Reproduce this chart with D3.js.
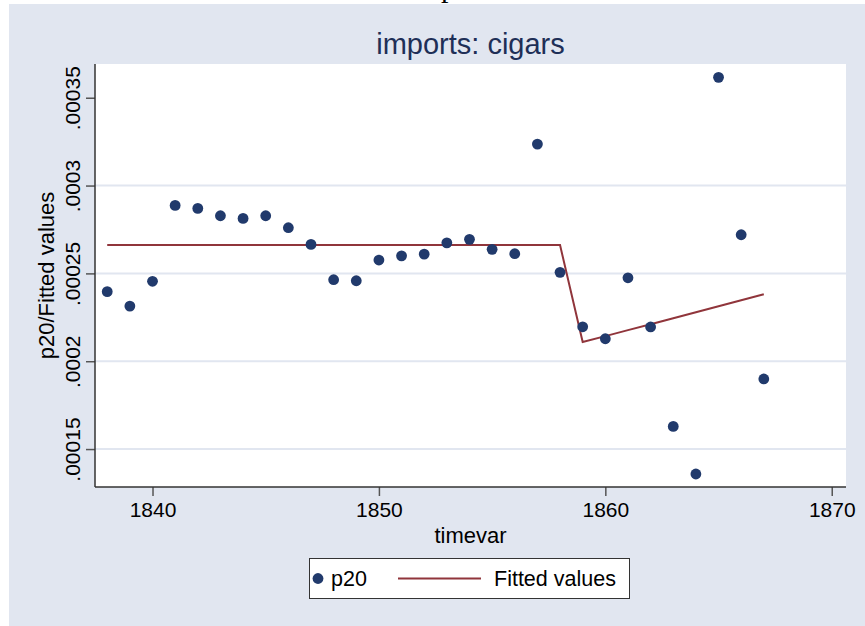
<!DOCTYPE html>
<html>
<head>
<meta charset="utf-8">
<script src="https://d3js.org/d3.v7.min.js"></script>
<style>
  body { margin: 0; background: #fff; }
  svg { display: block; }
</style>
</head>
<body>
<div class="canvas"></div>
<script>
// year of each observation
var years = [1838, 1839, 1840, 1841, 1842, 1843, 1844, 1845, 1846, 1847,
             1848, 1849, 1850, 1851, 1852, 1853, 1854, 1855, 1856, 1857,
             1858, 1859, 1860, 1861, 1862, 1863, 1864, 1865, 1866, 1867];

// p20 (scatter)
var p20 = [0.0002396, 0.0002314, 0.0002455, 0.0002887, 0.000287, 0.0002828, 0.0002813, 0.0002828, 0.000276, 0.0002665,
           0.0002464, 0.0002458, 0.0002576, 0.00026, 0.000261, 0.0002674, 0.0002694, 0.0002637, 0.0002612, 0.0003236,
           0.0002506, 0.0002196, 0.0002128, 0.0002475, 0.0002195, 0.0001629, 0.0001358, 0.0003616, 0.000272, 0.0001899];

// fitted values (line)
var fitted = [0.0002661, 0.0002661, 0.0002661, 0.0002661, 0.0002661, 0.0002661, 0.0002661, 0.0002661, 0.0002661, 0.0002661,
              0.0002661, 0.0002661, 0.0002661, 0.0002661, 0.0002661, 0.0002661, 0.0002661, 0.0002661, 0.0002661, 0.0002661,
              0.0002661, 0.0002109, 0.0002143, 0.0002177, 0.0002211, 0.0002245, 0.0002279, 0.0002313, 0.0002347, 0.0002381];

var xTicks = [1840, 1850, 1860, 1870];
var yTicks = [0.00015, 0.0002, 0.00025, 0.0003, 0.00035];
var yTickLabels = ['.00015', '.0002', '.00025', '.0003', '.00035'];
var yGrid = [0.00015, 0.0002, 0.00025, 0.0003];

var width = 865, height = 626;
var font = "'Liberation Sans', Arial, Helvetica, sans-serif";
var navy = '#213a6c', maroon = '#90353b', bg = '#e1e6f0';

var plotLeft = 95, plotRight = 846, plotTop = 64, plotBottom = 487;

var svg = d3.select('.canvas')
            .append('svg')
              .attr('width', width)
                .attr('height', height);

// bit of the page caption peeking in above the graph
svg.append('text')
    .attr('x', 441)
    .attr('y', -3)
    .attr('font-family', "'Liberation Serif', 'Times New Roman', serif")
    .attr('font-size', 30)
    .attr('fill', '#000')
    .text('p');

svg.append('rect')
    .attr('x', 9).attr('y', 4)
    .attr('width', width - 9).attr('height', height - 4)
    .attr('fill', bg);

svg.append('rect')
    .attr('x', plotLeft).attr('y', plotTop)
    .attr('width', plotRight - plotLeft).attr('height', plotBottom - plotTop)
    .attr('fill', '#fff');

var x = d3.scaleLinear().domain([1837.46, 1870.63]).range([plotLeft, plotRight]);
var y = d3.scaleLinear().domain([0.0001284, 0.0003692]).range([plotBottom, plotTop]);

// grid
svg.append('g')
    .selectAll('line')
      .data(yGrid)
        .enter()
          .append('line')
            .attr('x1', plotLeft).attr('x2', plotRight)
            .attr('y1', function(d){ return y(d); })
            .attr('y2', function(d){ return y(d); })
            .attr('stroke', bg)
            .attr('stroke-width', 2);

// axes
var yAxis = svg.append('g')
    .attr('transform', 'translate(' + plotLeft + ',0)')
    .call(d3.axisLeft(y).tickValues(yTicks).tickSize(9).tickSizeOuter(0)
            .tickFormat(function(d, i){ return yTickLabels[i]; }));

var xAxis = svg.append('g')
    .attr('transform', 'translate(0,' + plotBottom + ')')
    .call(d3.axisBottom(x).tickValues(xTicks).tickSize(9).tickSizeOuter(0)
            .tickFormat(d3.format('d')));

[yAxis, xAxis].forEach(function(ax){
  ax.select('.domain').remove();
  ax.selectAll('.tick line').attr('stroke', '#555').attr('stroke-width', 1.5);
  ax.selectAll('.tick text')
      .attr('fill', '#000')
      .attr('font-family', font)
      .attr('font-size', 21);
});

yAxis.selectAll('.tick text')
    .attr('transform', 'rotate(-90)')
    .attr('x', 0)
    .attr('y', -15)
    .attr('dy', 0)
    .attr('text-anchor', 'middle');

xAxis.selectAll('.tick text')
    .attr('y', 30)
    .attr('dy', 0);

svg.append('line')
    .attr('x1', plotLeft).attr('x2', plotLeft)
    .attr('y1', plotTop).attr('y2', plotBottom)
    .attr('stroke', '#333').attr('stroke-width', 1.5);
svg.append('line')
    .attr('x1', plotLeft).attr('x2', plotRight)
    .attr('y1', plotBottom).attr('y2', plotBottom)
    .attr('stroke', '#333').attr('stroke-width', 1.5);

// fitted line
var pts = years.map(function(d, i){ return [d, fitted[i]]; });
svg.append('path')
    .datum(pts)
    .attr('fill', 'none')
    .attr('stroke', maroon)
    .attr('stroke-width', 2)
    .attr('d', d3.line()
                 .x(function(d){ return x(d[0]); })
                 .y(function(d){ return y(d[1]); }));

// scatter
svg.append('g')
    .selectAll('circle')
      .data(years)
        .enter()
          .append('circle')
            .attr('cx', function(d){ return x(d); })
            .attr('cy', function(d, i){ return y(p20[i]); })
            .attr('r', 5.4)
            .attr('fill', navy);

// titles
var midX = (plotLeft + plotRight) / 2;
svg.append('text')
    .attr('x', midX).attr('y', 54)
    .attr('text-anchor', 'middle')
    .attr('font-family', font).attr('font-size', 29)
    .attr('fill', '#1e2f57')
    .text('imports: cigars');

svg.append('text')
    .attr('x', midX).attr('y', 543)
    .attr('text-anchor', 'middle')
    .attr('font-family', font).attr('font-size', 22)
    .attr('fill', '#000')
    .text('timevar');

svg.append('text')
    .attr('transform', 'translate(54,' + ((plotTop + plotBottom) / 2) + ') rotate(-90)')
    .attr('text-anchor', 'middle')
    .attr('font-family', font).attr('font-size', 22)
    .attr('fill', '#000')
    .text('p20/Fitted values');

// legend
var legend = svg.append('g');
legend.append('rect')
    .attr('x', 309.5).attr('y', 558.5)
    .attr('width', 320).attr('height', 40)
    .attr('fill', '#fff')
    .attr('stroke', '#333').attr('stroke-width', 1);
legend.append('circle')
    .attr('cx', 318).attr('cy', 578.5).attr('r', 5.4)
    .attr('fill', navy);
legend.append('text')
    .attr('x', 331).attr('y', 585.5)
    .attr('font-family', font).attr('font-size', 21.5)
    .attr('fill', '#000')
    .text('p20');
legend.append('line')
    .attr('x1', 398).attr('x2', 481)
    .attr('y1', 578.5).attr('y2', 578.5)
    .attr('stroke', maroon).attr('stroke-width', 2);
legend.append('text')
    .attr('x', 494).attr('y', 585.5)
    .attr('font-family', font).attr('font-size', 21.5)
    .attr('fill', '#000')
    .text('Fitted values');
</script>
</body>
</html>
